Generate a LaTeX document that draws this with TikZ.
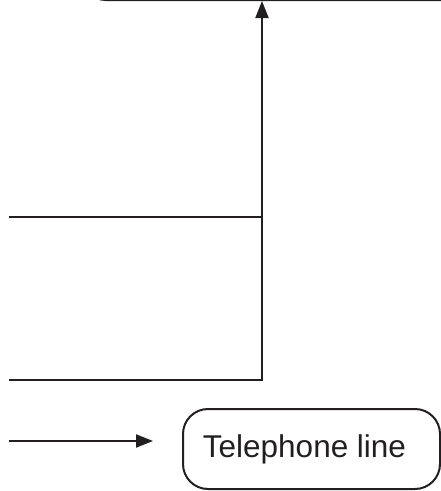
\documentclass[tikz,border=0pt]{standalone}
\usepackage{fontspec}
\setmainfont{Liberation Sans}
\usetikzlibrary{arrows.meta}
\definecolor{ink}{RGB}{35,31,32}
\begin{document}
\begin{tikzpicture}[x=1pt,y=-1pt,
  wire/.style={line width=2pt, draw=ink},
  arr/.style={wire, -{Triangle[length=17pt,width=13pt]}},
  rbox/.style={draw=ink, line width=2pt, rounded corners=25pt, inner sep=0pt},
  lbl/.style={font=\fontsize{31.5}{38}\selectfont, text=ink, inner sep=0pt}]
\useasboundingbox (0,0) rectangle (441,491);
\clip (0,0) rectangle (441,491);
% top box (cut off by the picture edge)
\node[rbox, minimum width=460pt, minimum height=120pt, anchor=south west] (top) at (80,1) {};
% telephone line box
\node[rbox, minimum width=257pt, minimum height=80pt] (tel) at (311.5,449) {};
\node[lbl] (tellbl) at (304.5,449) {Telephone line};
% junctions and free ends
\coordinate (j1) at (262,217);
\coordinate (j2) at (262,380);
\coordinate (a1) at (9,217);
\coordinate (a2) at (9,380);
\coordinate (a3) at (9,441);
\coordinate (b3) at (153,441);
\draw[wire] (a1) -- (j1);
\draw[wire] (a2) -- (j2) -- (j1);
\draw[arr] (j1) -- (j1 |- top.south);
\draw[arr] (a3) -- (b3);
\end{tikzpicture}
\end{document}
